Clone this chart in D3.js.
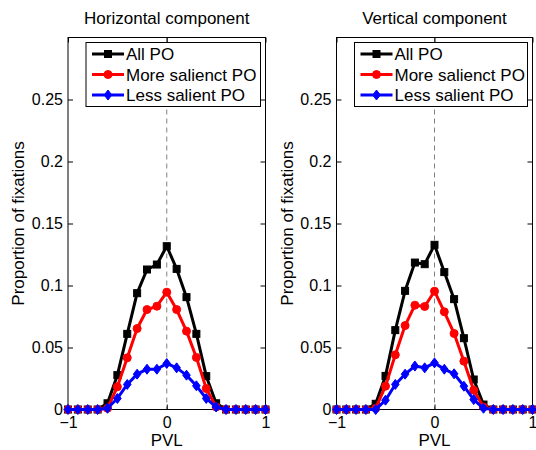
<!DOCTYPE html>
<html>
<head>
<meta charset="utf-8">
<script src="https://cdn.jsdelivr.net/npm/d3@7"></script>
<style>
  html, body { margin: 0; padding: 0; background: #fff; }
  svg { display: block; font-family: "Liberation Sans", Arial, sans-serif; }
</style>
</head>
<body>
<svg id="chart" width="536" height="450"></svg>
<script>
// ---- data ----
const pvl = [-1, -0.9, -0.8, -0.7, -0.6, -0.5, -0.4, -0.3, -0.2, -0.1, 0, 0.1, 0.2, 0.3, 0.4, 0.5, 0.6, 0.7, 0.8, 0.9, 1];

const horizAll  = [0, 0, 0, 0, 0.005, 0.0277, 0.061, 0.0938, 0.1129, 0.1169, 0.1317, 0.1134, 0.0906, 0.061, 0.0269, 0.005, 0, 0, 0, 0, 0];
const horizMore = [0, 0, 0, 0, 0.001, 0.0183, 0.0417, 0.0653, 0.0806, 0.0833, 0.0946, 0.0806, 0.0632, 0.042, 0.0169, 0.002, 0, 0, 0, 0, 0];
const horizLess = [0, 0, 0, 0, 0.001, 0.0089, 0.0202, 0.0285, 0.0325, 0.0325, 0.0371, 0.0336, 0.0277, 0.0191, 0.0089, 0.002, 0, 0, 0, 0, 0];

const vertAll  = [0, 0, 0, 0, 0.0046, 0.0271, 0.064, 0.0957, 0.1185, 0.1172, 0.1328, 0.1108, 0.089, 0.0575, 0.0242, 0.004, 0, 0, 0, 0, 0];
const vertMore = [0, 0, 0, 0, 0.001, 0.0188, 0.0441, 0.0677, 0.0841, 0.0831, 0.0954, 0.0788, 0.0613, 0.039, 0.0156, 0.002, 0, 0, 0, 0, 0];
const vertLess = [0, 0, 0, 0, 0, 0.0075, 0.0202, 0.0285, 0.035, 0.0336, 0.0376, 0.0325, 0.0288, 0.0188, 0.008, 0.001, 0, 0, 0, 0, 0];

const seriesNames = ["All PO", "More salienct PO", "Less salient PO"];
const seriesColors = ["#000000", "#ff0000", "#0000ff"];
const seriesMarkers = ["square", "circle", "diamond"];

const panelTitles = ["Horizontal component", "Vertical component"];
const yTicks = [0, 0.05, 0.1, 0.15, 0.2, 0.25];
const yTickLabels = ["0", "0.05", "0.1", "0.15", "0.2", "0.25"];
const xTicks = [-1, 0, 1];
const xTickLabels = ["\u22121", "0", "1"];
const xLabel = "PVL";
const yLabel = "Proportion of fixations";

const panelData = [
  [horizAll, horizMore, horizLess],
  [vertAll, vertMore, vertLess]
];

// ---- layout ----
const svg = d3.select("#chart");
const panels = [
  { x0: 68, x1: 265.5 },
  { x0: 336.5, x1: 532.5 }
];
const yTop = 37.5, yBot = 409.5;
const tickFont = 16;
const textFont = 17;

function drawMarker(g, type, x, y, color) {
  if (type === "square") {
    g.append("rect").attr("x", x - 3.5).attr("y", y - 3.5).attr("width", 7).attr("height", 7)
      .attr("fill", color).attr("stroke", color).attr("stroke-width", 1);
  } else if (type === "circle") {
    g.append("circle").attr("cx", x).attr("cy", y).attr("r", 4)
      .attr("fill", color).attr("stroke", color).attr("stroke-width", 1);
  } else {
    g.append("path").attr("d", `M${x},${y - 5}L${x + 3.8},${y}L${x},${y + 5}L${x - 3.8},${y}Z`)
      .attr("fill", color).attr("stroke", color).attr("stroke-width", 1);
  }
}

panels.forEach((p, pi) => {
  const x = d3.scaleLinear().domain([-1, 1]).range([p.x0, p.x1]);
  const y = d3.scaleLinear().domain([0, 0.3]).range([yBot, yTop]);
  const g = svg.append("g");

  // dashed zero line
  g.append("line").attr("x1", x(0)).attr("x2", x(0)).attr("y1", yTop).attr("y2", yBot)
    .attr("stroke", "#808080").attr("stroke-width", 1).attr("stroke-dasharray", "5,4");

  // axes (ticks inward)
  const axL = d3.axisLeft(y).tickValues(yTicks).tickSize(-5).tickPadding(5)
    .tickFormat((d, i) => yTickLabels[i]);
  const axR = d3.axisRight(y).tickValues(yTicks).tickSize(-5).tickFormat("");
  const axB = d3.axisBottom(x).tickValues(xTicks).tickSize(-5).tickPadding(7)
    .tickFormat((d, i) => xTickLabels[i]);
  const axT = d3.axisTop(x).tickValues(xTicks).tickSize(-5).tickFormat("");

  [[axL, `translate(${p.x0},0)`], [axR, `translate(${p.x1},0)`],
   [axB, `translate(0,${yBot})`], [axT, `translate(0,${yTop})`]].forEach(([ax, tr]) => {
    const a = g.append("g").attr("transform", tr).call(ax);
    a.select(".domain").remove();
    a.selectAll("line").attr("stroke", "#000");
    a.selectAll("text").attr("font-size", tickFont).attr("font-family", "Liberation Sans, Arial, sans-serif").attr("fill", "#000");
  });

  // box
  g.append("rect").attr("x", p.x0).attr("y", yTop).attr("width", p.x1 - p.x0).attr("height", yBot - yTop)
    .attr("fill", "none").attr("stroke", "#000").attr("stroke-width", 1);

  // series
  const line = d3.line().x((d, i) => x(pvl[i])).y(d => y(d));
  panelData[pi].forEach((vals, si) => {
    const sg = g.append("g");
    sg.append("path").datum(vals).attr("d", line).attr("fill", "none")
      .attr("stroke", seriesColors[si]).attr("stroke-width", 3).attr("stroke-linejoin", "round");
    vals.forEach((v, i) => drawMarker(sg, seriesMarkers[si], x(pvl[i]), y(v), seriesColors[si]));
  });

  // title
  g.append("text").attr("x", (p.x0 + p.x1) / 2).attr("y", 24).attr("text-anchor", "middle")
    .attr("font-size", textFont).text(panelTitles[pi]);

  // x label
  g.append("text").attr("x", x(0)).attr("y", 445.5).attr("text-anchor", "middle")
    .attr("font-size", textFont).text(xLabel);

  // y label
  g.append("text").attr("transform", `translate(${p.x0 - 44},${(yTop + yBot) / 2}) rotate(-90)`)
    .attr("text-anchor", "middle").attr("font-size", textFont).text(yLabel);

  // legend
  const lx = p.x0 + 18, ly = 42.5, lw = p.x1 - p.x0 - 23, lh = 64;
  const lg = g.append("g");
  lg.append("rect").attr("x", lx).attr("y", ly).attr("width", lw).attr("height", lh)
    .attr("fill", "#fff").attr("stroke", "#000").attr("stroke-width", 1);
  seriesNames.forEach((name, si) => {
    const ry = ly + 11.5 + si * 20.5;
    lg.append("line").attr("x1", lx + 6).attr("x2", lx + 38).attr("y1", ry).attr("y2", ry)
      .attr("stroke", seriesColors[si]).attr("stroke-width", 3);
    drawMarker(lg, seriesMarkers[si], lx + 22, ry, seriesColors[si]);
    lg.append("text").attr("x", lx + 40).attr("y", ry + 6).attr("font-size", textFont).text(name);
  });
});
</script>
</body>
</html>
